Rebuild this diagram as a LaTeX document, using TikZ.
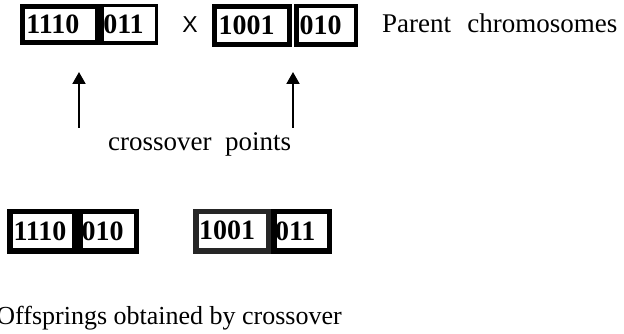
\documentclass[tikz,border=0pt]{standalone}
\usepackage{fontspec}
\setmainfont{Liberation Serif}
\newfontfamily\arialfont{Liberation Sans}
\usetikzlibrary{arrows.meta}
\tikzset{
  chrom/.style={draw, rectangle, inner sep=0pt, align=left,
    font=\bfseries\fontsize{28}{28}\selectfont},
  caption/.style={inner sep=0pt, font=\fontsize{27}{30}\selectfont},
  crossarrow/.style={line width=2pt, -{Triangle[width=13pt,length=12pt]}},
}
\begin{document}
\begin{tikzpicture}[x=1pt,y=1pt]
\useasboundingbox (0,0) rectangle (624,334);
% top row (parents)
\node[chrom, line width=3.5pt, minimum width=54.5pt, minimum height=37.5pt, text width=52pt] (a2) at (129.25,309.5) {011};
\node[chrom, line width=5pt, minimum width=75pt, minimum height=36pt, text width=67pt] (a1) at (60,309.5) {1110};
\node[inner sep=0pt, font=\arialfont\fontsize{23}{23}\selectfont] (x) at (190,309) {X};
\node[chrom, line width=4.5pt, minimum width=59.5pt, minimum height=38.5pt, text width=53pt] (b2) at (326,308.5) {010};
\node[chrom, line width=5pt, minimum width=75pt, minimum height=38pt, text width=67pt] (b1) at (252,308.5) {1001};
\node[caption, anchor=base west] (parents) at (382,301) {Parent\hspace{0.6em}chromosomes};
% crossover arrows
\coordinate (s1) at (79,206);
\coordinate (t1) at (79,262);
\coordinate (s2) at (293,206);
\coordinate (t2) at (293,262);
\draw[crossarrow] (s1) -- (t1);
\draw[crossarrow] (s2) -- (t2);
\node[caption, anchor=base west] (cp) at (108,183) {crossover\hspace{0.5em}points};
% bottom row (offsprings)
\node[chrom, line width=5.5pt, minimum width=56.5pt, minimum height=39.5pt, text width=53pt] (c2) at (108,102.5) {010};
\node[chrom, line width=5.5pt, minimum width=64.5pt, minimum height=39.5pt, text width=57pt] (c1) at (42,102.5) {1110};
\node[chrom, line width=5.5pt, minimum width=55.5pt, minimum height=39.5pt, text width=53pt] (d2) at (301.5,102.5) {011};
\node[chrom, draw=black!85, line width=5.5pt, minimum width=72.5pt, minimum height=39.5pt, text width=66pt, text depth=2pt] (d1) at (232,102.5) {1001};
\node[caption, font=\fontsize{26}{30}\selectfont, anchor=base east] (off) at (342,9) {Offsprings obtained by crossover};
\end{tikzpicture}
\end{document}
